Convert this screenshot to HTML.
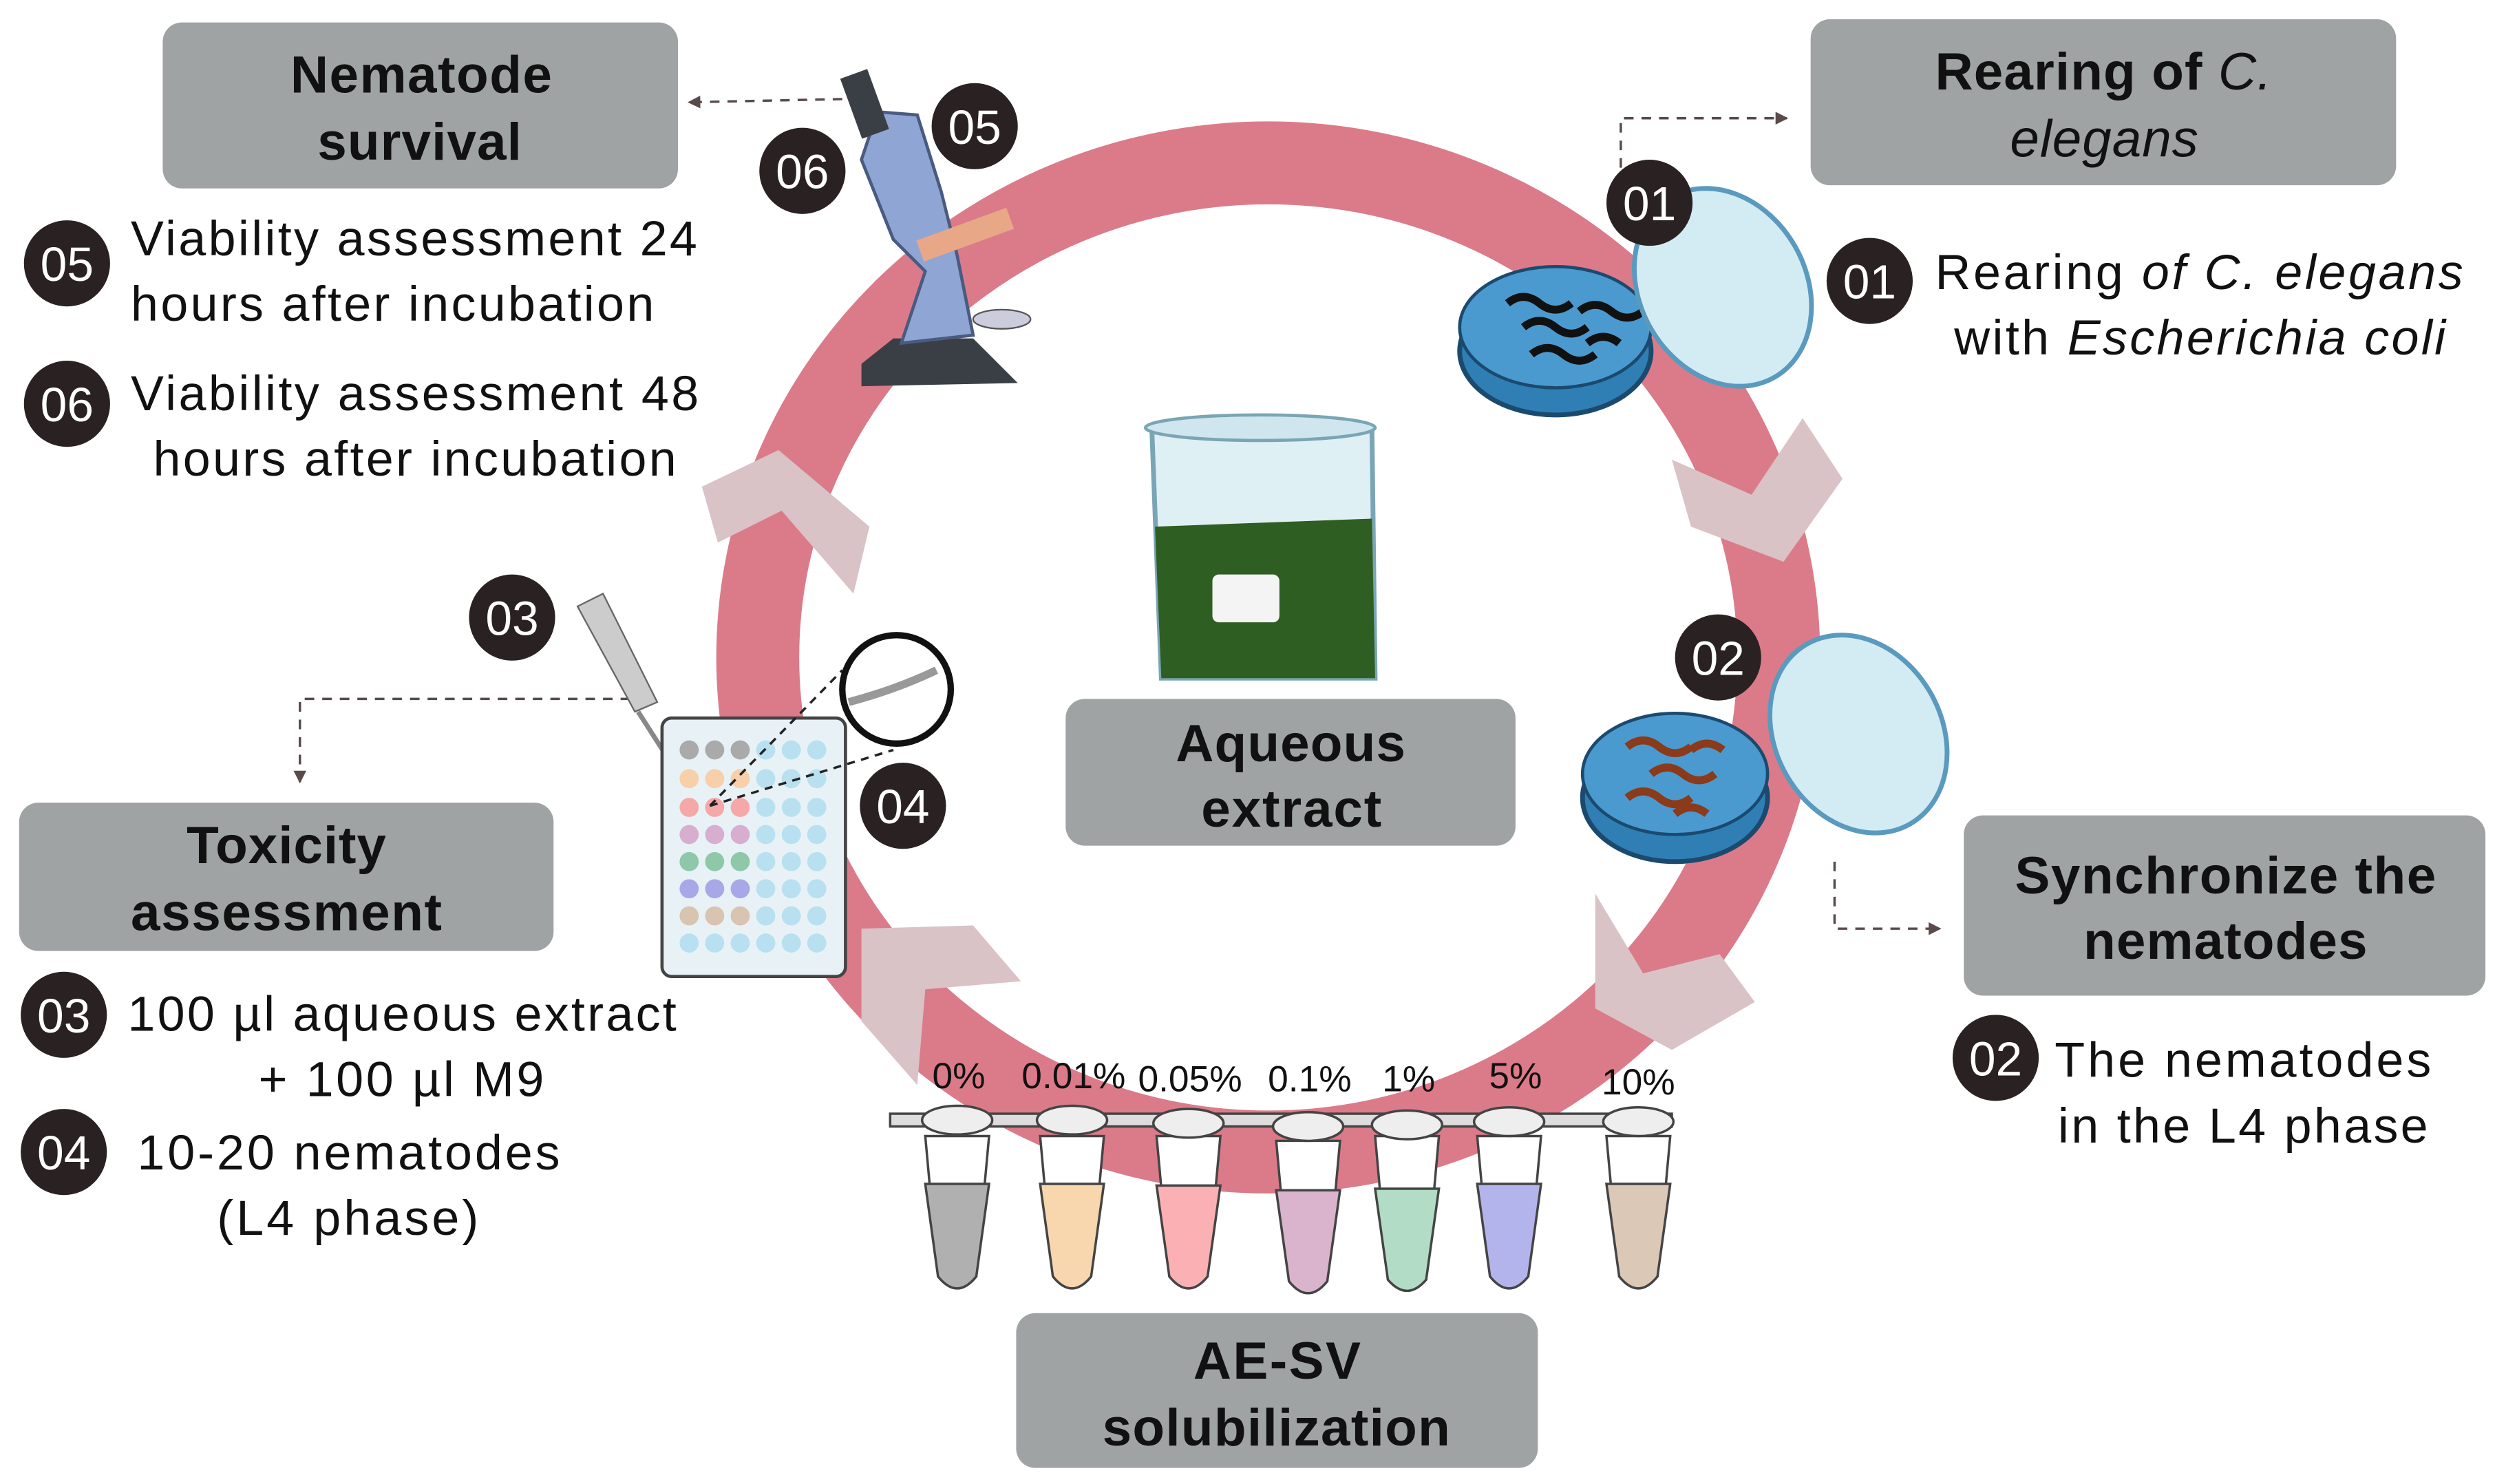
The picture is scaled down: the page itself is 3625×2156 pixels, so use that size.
<!DOCTYPE html>
<html><head><meta charset="utf-8"><style>
html,body{margin:0;padding:0;background:#fff;}
svg{display:block;}
text{font-family:"Liberation Sans",Arial,sans-serif;}
</style></head><body>
<svg width="3625" height="2156" viewBox="0 0 1564 930" xmlns="http://www.w3.org/2000/svg">
<defs>
<marker id="ah" markerWidth="8" markerHeight="8" refX="7" refY="4" orient="auto" markerUnits="userSpaceOnUse"><path d="M0,0 L8,4 L0,8 z" fill="#5a4a4a"/></marker>
</defs>
<ellipse cx="795" cy="412" rx="320" ry="310" fill="none" stroke="#db7b89" stroke-width="52"/>
<g fill="#d9c3c6">
<path d="M1048,288 L1098,310 L1130,262 L1155,300 L1118,352 L1060,330 z"/>
<path d="M1000,560 L1030,610 L1078,598 L1100,628 L1048,658 L1000,632 z" />
<path d="M540,582 L610,580 L640,615 L580,620 L575,680 L540,640 z"/>
<path d="M440,305 L488,282 L545,330 L535,372 L490,320 L450,340 z"/>
</g>
<g fill="#9fa3a3">
<rect x="102" y="14" width="323" height="104" rx="12"/>
<rect x="1135" y="12" width="367" height="104" rx="12"/>
<rect x="668" y="438" width="282" height="92" rx="12"/>
<rect x="12" y="503" width="335" height="93" rx="12"/>
<rect x="1231" y="511" width="327" height="113" rx="12"/>
<rect x="637" y="823" width="327" height="97" rx="12"/>
</g>
<g font-weight="bold" font-size="33" fill="#111" lengthAdjust="spacingAndGlyphs">
<text x="182" y="58" textLength="164">Nematode</text><text x="199" y="100" textLength="128">survival</text>
<text x="1213" y="56" textLength="211">Rearing of <tspan font-style="italic" font-weight="normal">C.</tspan></text>
<text x="1260" y="98" textLength="118" font-style="italic" font-weight="normal">elegans</text>
<text x="737" y="477" textLength="144">Aqueous</text><text x="753" y="518" textLength="113">extract</text>
<text x="117" y="541" textLength="125">Toxicity</text><text x="82" y="583" textLength="195">assessment</text>
<text x="1263" y="560" textLength="264">Synchronize the</text><text x="1306" y="601" textLength="178">nematodes</text>
<text x="748" y="864" textLength="105">AE-SV</text><text x="691" y="906" textLength="218">solubilization</text>
</g>
<g stroke="#5a4a4a" stroke-width="1.5" stroke-dasharray="6,5" fill="none">
<path d="M528,62 L432,64" marker-end="url(#ah)"/>
<path d="M1016,105 L1016,74 L1120,74" marker-end="url(#ah)"/>
<path d="M395,438 L188,438 L188,490" marker-end="url(#ah)"/>
<path d="M1150,540 L1150,582 L1216,582" marker-end="url(#ah)"/>
</g>
<g font-size="31" fill="#111" lengthAdjust="spacingAndGlyphs">
<text x="82" y="160" textLength="355">Viability assessment 24</text>
<text x="82" y="201" textLength="328">hours after incubation</text>
<text x="82" y="257" textLength="356">Viability assessment 48</text>
<text x="96" y="298" textLength="328">hours after incubation</text>
<text x="1213" y="181" textLength="331">Rearing <tspan font-style="italic">of C. elegans</tspan></text>
<text x="1225" y="222" textLength="308">with <tspan font-style="italic">Escherichia coli</tspan></text>
<text x="80" y="646" textLength="344">100 µl aqueous extract</text>
<text x="162" y="687" textLength="179">+ 100 µl M9</text>
<text x="86" y="733" textLength="265">10-20 nematodes</text>
<text x="136" y="774" textLength="164">(L4 phase)</text>
<text x="1288" y="675" textLength="236">The nematodes</text>
<text x="1290" y="716" textLength="232">in the L4 phase</text>
</g>
<!-- microscope -->
<g>
<path d="M540,228 L560,212 L610,212 L638,240 L540,242 z" fill="#3a3f45"/>
<path d="M565,215 L580,170 L560,150 L540,100 L550,70 L575,72 L590,120 L600,160 L610,210 z" fill="#8fa6d4" stroke="#4a5a80" stroke-width="2"/>
<rect x="533" y="45" width="18" height="40" fill="#3a3f45" transform="rotate(-20 542 65)"/>
<rect x="575" y="140" width="60" height="14" fill="#e8a888" transform="rotate(-20 605 147)"/>
<ellipse cx="628" cy="200" rx="18" ry="6" fill="#ccd" stroke="#555"/>
</g>
<g>
<ellipse cx="975" cy="220" rx="60" ry="40" fill="#2f7fb5" stroke="#1b4a6e" stroke-width="3"/>
<ellipse cx="975" cy="205" rx="60" ry="38" fill="#4a9ad0" stroke="#1b4a6e" stroke-width="2"/>
<g stroke="#111" stroke-width="5" fill="none">
<path d="M945,190 q10,-8 20,0 t20,0"/><path d="M955,205 q10,-8 20,0 t20,0"/><path d="M990,195 q10,-8 20,0 t20,0"/><path d="M960,222 q10,-8 20,0 t20,0"/><path d="M995,215 q10,-8 20,0"/>
</g>
<ellipse cx="1080" cy="180" rx="52" ry="65" transform="rotate(-30 1080 180)" fill="#d3ecf4" stroke="#5a9abf" stroke-width="3"/>
</g>
<g>
<ellipse cx="1050" cy="500" rx="58" ry="40" fill="#2f7fb5" stroke="#1b4a6e" stroke-width="3"/>
<ellipse cx="1050" cy="485" rx="58" ry="38" fill="#4a9ad0" stroke="#1b4a6e" stroke-width="2"/>
<g stroke="#8b3a1a" stroke-width="5" fill="none">
<path d="M1020,468 q10,-8 20,0 t20,0"/><path d="M1035,485 q10,-8 20,0 t20,0"/><path d="M1020,500 q10,-8 20,0 t20,0"/><path d="M1060,470 q10,-8 20,0"/><path d="M1050,510 q10,-8 20,0"/>
</g>
<ellipse cx="1165" cy="460" rx="52" ry="65" transform="rotate(-30 1165 460)" fill="#d3ecf4" stroke="#5a9abf" stroke-width="3"/>
</g>
<g>
<path d="M722,268 L860,268 L862,425 L728,425 z" fill="#dff0f5" stroke="#7aa5b5" stroke-width="3"/>
<path d="M724,330 L860,325 L862,425 L728,425 z" fill="#2f5e22"/>
<rect x="760" y="360" width="42" height="30" fill="#f4f4f4" rx="4"/>
<ellipse cx="790" cy="268" rx="72" ry="8" fill="#cfe6ee" stroke="#7aa5b5" stroke-width="2"/>
</g>
<g>
<path d="M362,380 L378,372 L412,440 L398,446 z" fill="#ccc" stroke="#666"/>
<path d="M400,446 L425,485" stroke="#888" stroke-width="3"/>
<rect x="415" y="450" width="115" height="162" rx="6" fill="#e8f2f6" stroke="#444" stroke-width="2"/>
<g>
<g fill="#aaa"><circle cx="432" cy="470" r="6"/><circle cx="448" cy="470" r="6"/><circle cx="464" cy="470" r="6"/></g>
<g fill="#f7cfa8"><circle cx="432" cy="488" r="6"/><circle cx="448" cy="488" r="6"/><circle cx="464" cy="488" r="6"/></g>
<g fill="#f4a8a8"><circle cx="432" cy="506" r="6"/><circle cx="448" cy="506" r="6"/><circle cx="464" cy="506" r="6"/></g>
<g fill="#d8aed0"><circle cx="432" cy="523" r="6"/><circle cx="448" cy="523" r="6"/><circle cx="464" cy="523" r="6"/></g>
<g fill="#8fc8a8"><circle cx="432" cy="540" r="6"/><circle cx="448" cy="540" r="6"/><circle cx="464" cy="540" r="6"/></g>
<g fill="#a8a8e8"><circle cx="432" cy="557" r="6"/><circle cx="448" cy="557" r="6"/><circle cx="464" cy="557" r="6"/></g>
<g fill="#d8c4b0"><circle cx="432" cy="574" r="6"/><circle cx="448" cy="574" r="6"/><circle cx="464" cy="574" r="6"/></g>
<g fill="#b8e0f0"><circle cx="432" cy="591" r="6"/><circle cx="448" cy="591" r="6"/><circle cx="464" cy="591" r="6"/>
<circle cx="480" cy="470" r="6"/><circle cx="496" cy="470" r="6"/><circle cx="512" cy="470" r="6"/>
<circle cx="480" cy="488" r="6"/><circle cx="496" cy="488" r="6"/><circle cx="512" cy="488" r="6"/>
<circle cx="480" cy="506" r="6"/><circle cx="496" cy="506" r="6"/><circle cx="512" cy="506" r="6"/>
<circle cx="480" cy="523" r="6"/><circle cx="496" cy="523" r="6"/><circle cx="512" cy="523" r="6"/>
<circle cx="480" cy="540" r="6"/><circle cx="496" cy="540" r="6"/><circle cx="512" cy="540" r="6"/>
<circle cx="480" cy="557" r="6"/><circle cx="496" cy="557" r="6"/><circle cx="512" cy="557" r="6"/>
<circle cx="480" cy="574" r="6"/><circle cx="496" cy="574" r="6"/><circle cx="512" cy="574" r="6"/>
<circle cx="480" cy="591" r="6"/><circle cx="496" cy="591" r="6"/><circle cx="512" cy="591" r="6"/></g>
</g>
<path d="M445,505 L528,420 M445,505 L560,470" stroke="#222" stroke-dasharray="5,4" stroke-width="1.5"/>
<circle cx="562" cy="432" r="34" fill="#fff" stroke="#111" stroke-width="4"/>
<path d="M532,440 q30,-8 55,-20" stroke="#999" stroke-width="5" fill="none"/>
</g>
<g font-size="23" text-anchor="middle" fill="#111">
<text x="601" y="682">0%</text><text x="673" y="682">0.01%</text><text x="746" y="684">0.05%</text>
<text x="821" y="684">0.1%</text><text x="883" y="684">1%</text><text x="950" y="682">5%</text><text x="1027" y="686">10%</text>
</g>
<g stroke="#444" stroke-width="1.5">
<rect x="558" y="698" width="490" height="8" fill="#ddd"/>
<path d="M580,712 L620,712 L612,800 Q600,815 588,800 z" fill="#fff"/><path d="M580,742 L620,742 L612,800 Q600,815 588,800 z" fill="#b0b0b0"/>
<path d="M652,712 L692,712 L684,800 Q672,815 660,800 z" fill="#fff"/><path d="M652,742 L692,742 L684,800 Q672,815 660,800 z" fill="#f8d6ae"/>
<path d="M725,712 L765,712 L757,800 Q745,815 733,800 z" fill="#fff"/><path d="M725,743 L765,743 L757,800 Q745,815 733,800 z" fill="#fbb0b4"/>
<path d="M800,715 L840,715 L832,803 Q820,818 808,803 z" fill="#fff"/><path d="M800,746 L840,746 L832,803 Q820,818 808,803 z" fill="#dab4cc"/>
<path d="M862,712 L902,712 L894,802 Q882,816 870,802 z" fill="#fff"/><path d="M862,745 L902,745 L894,802 Q882,816 870,802 z" fill="#b2dcc6"/>
<path d="M926,712 L966,712 L958,800 Q946,815 934,800 z" fill="#fff"/><path d="M926,742 L966,742 L958,800 Q946,815 934,800 z" fill="#b4b4ec"/>
<path d="M1007,712 L1047,712 L1039,800 Q1027,815 1015,800 z" fill="#fff"/><path d="M1007,742 L1047,742 L1039,800 Q1027,815 1015,800 z" fill="#dcc8b6"/>
<g fill="#eee">
<ellipse cx="600" cy="702" rx="22" ry="9"/><ellipse cx="672" cy="702" rx="22" ry="9"/><ellipse cx="745" cy="704" rx="22" ry="9"/>
<ellipse cx="820" cy="706" rx="22" ry="9"/><ellipse cx="882" cy="705" rx="22" ry="9"/><ellipse cx="946" cy="703" rx="22" ry="9"/><ellipse cx="1027" cy="703" rx="22" ry="9"/>
</g>
</g>
<!-- badges on top -->
<g fill="#2a2222">
<circle cx="42" cy="165" r="27"/><circle cx="42" cy="253" r="27"/>
<circle cx="1172" cy="176" r="27"/><circle cx="40" cy="636" r="27"/>
<circle cx="40" cy="722" r="27"/><circle cx="1251" cy="663" r="27"/>
<circle cx="611" cy="79" r="27"/><circle cx="503" cy="107" r="27"/>
<circle cx="1034" cy="127" r="27"/><circle cx="1077" cy="412" r="27"/>
<circle cx="321" cy="387" r="27"/><circle cx="566" cy="505" r="27"/>
</g>
<g fill="#fff" font-size="30" text-anchor="middle">
<text x="42" y="176">05</text><text x="42" y="264">06</text>
<text x="1172" y="187">01</text><text x="40" y="647">03</text>
<text x="40" y="733">04</text><text x="1251" y="674">02</text>
<text x="611" y="90">05</text><text x="503" y="118">06</text>
<text x="1034" y="138">01</text><text x="1077" y="423">02</text>
<text x="321" y="398">03</text><text x="566" y="516">04</text>
</g>
</svg>
</body></html>
